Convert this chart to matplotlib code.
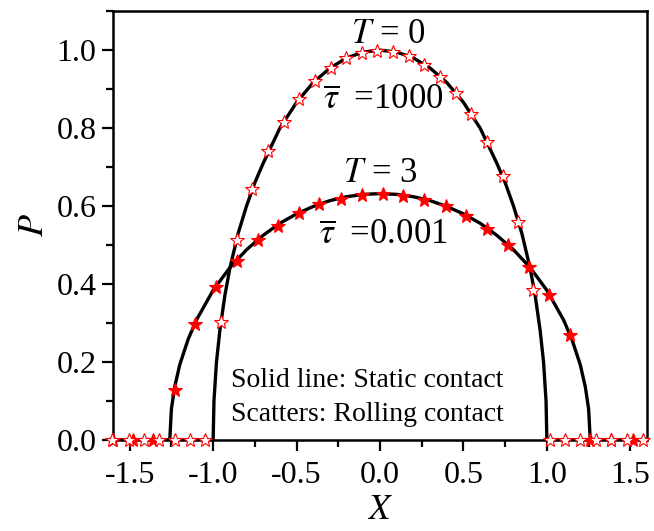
import numpy as np
import matplotlib
matplotlib.use("Agg")
import matplotlib.pyplot as plt
from matplotlib.ticker import MultipleLocator, FormatStrFormatter

plt.rcParams['font.family'] = ['Liberation Serif', 'DejaVu Serif']
plt.rcParams['mathtext.fontset'] = 'stix'
plt.rcParams['axes.unicode_minus'] = False

# static contact, T = 0 (solid line)
x_static0 = [-1.6, -1.0, -0.995, -0.98, -0.96, -0.93, -0.9, -0.85, -0.8, -0.75, -0.7,
             -0.6, -0.5, -0.4, -0.3, -0.2, -0.1, 0.0, 0.1, 0.2, 0.3, 0.4, 0.5, 0.6,
             0.7, 0.75, 0.8, 0.85, 0.9, 0.93, 0.96, 0.98, 0.995, 1.0, 1.6]
p_static0 = [0.0, 0.0, 0.10, 0.20, 0.28, 0.37, 0.44, 0.53, 0.60, 0.66, 0.71,
             0.80, 0.866, 0.917, 0.954, 0.98, 0.995, 1.0, 0.995, 0.98, 0.954, 0.917, 0.866, 0.80,
             0.71, 0.66, 0.60, 0.53, 0.44, 0.37, 0.28, 0.20, 0.10, 0.0, 0.0]

# static contact, T = 3 (solid line)
x_static3 = [-1.6, -1.26, -1.25, -1.23, -1.2, -1.15, -1.1, -1.0, -0.9, -0.8, -0.7, -0.6,
             -0.5, -0.4, -0.3, -0.2, -0.1, 0.0, 0.1, 0.2, 0.3, 0.4, 0.5, 0.6, 0.7, 0.8,
             0.9, 1.0, 1.1, 1.15, 1.2, 1.23, 1.25, 1.26, 1.6]
p_static3 = [0.0, 0.0, 0.08, 0.137, 0.193, 0.258, 0.308, 0.384, 0.442, 0.488, 0.525, 0.556,
             0.580, 0.599, 0.614, 0.624, 0.630, 0.632, 0.630, 0.624, 0.614, 0.599, 0.580, 0.556, 0.525, 0.488,
             0.442, 0.384, 0.308, 0.258, 0.193, 0.137, 0.08, 0.0, 0.0]

# rolling contact, tau = 1000 (open stars)
x_roll0 = [-1.607, -1.507, -1.417, -1.327, -1.228, -1.138, -1.048,
           -0.952, -0.858, -0.765, -0.669, -0.573, -0.483, -0.389, -0.295, -0.205, -0.110,
           -0.016, 0.076, 0.174, 0.265, 0.359, 0.453, 0.545, 0.639, 0.735, 0.828, 0.918,
           1.018, 1.108, 1.198, 1.293, 1.387, 1.481, 1.577]
p_roll0 = [0, 0, 0, 0, 0, 0, 0,
           0.303, 0.513, 0.644, 0.740, 0.816, 0.874, 0.921, 0.955, 0.979, 0.993,
           0.997, 0.996, 0.985, 0.963, 0.932, 0.891, 0.835, 0.765, 0.678, 0.558, 0.385,
           0, 0, 0, 0, 0, 0, 0]

# rolling contact, tau = 0.001 (filled stars)
x_roll3 = [-1.6, -1.481, -1.361, -1.228, -1.108, -0.984, -0.858, -0.732, -0.609, -0.485,
           -0.363, -0.235, -0.110, 0.016, 0.140, 0.265, 0.393, 0.515, 0.639, 0.765,
           0.892, 1.014, 1.138, 1.257, 1.387, 1.517]
p_roll3 = [0, 0, 0, 0.128, 0.298, 0.392, 0.460, 0.512, 0.550, 0.581,
           0.605, 0.618, 0.628, 0.631, 0.626, 0.616, 0.599, 0.574, 0.541, 0.499,
           0.445, 0.373, 0.269, 0, 0, 0]

fig = plt.figure(figsize=(6.54, 5.31), dpi=100)
ax = fig.add_axes([0.1728, 0.1714, 0.8165, 0.8076])

ax.plot(x_static0, p_static0, color='black', lw=2.4, zorder=2)
ax.plot(x_static3, p_static3, color='black', lw=2.4, zorder=2)
ax.plot(x_roll3, p_roll3, ls='none', marker='*', ms=10.5, mfc='red', mec='red', mew=0.8,
        zorder=3, clip_on=False)
ax.plot(x_roll0, p_roll0, ls='none', marker='*', ms=10.5, mfc='white', mec='red', mew=0.8,
        zorder=4, clip_on=False)

ax.set_xlim(-1.6, 1.6)
ax.set_ylim(0, 1.1)
ax.xaxis.set_major_locator(MultipleLocator(0.5))
ax.xaxis.set_minor_locator(MultipleLocator(0.25))
ax.yaxis.set_major_locator(MultipleLocator(0.2))
ax.yaxis.set_minor_locator(MultipleLocator(0.1))
ax.xaxis.set_major_formatter(FormatStrFormatter('%.1f'))
ax.yaxis.set_major_formatter(FormatStrFormatter('%.1f'))
ax.tick_params(which='both', direction='out', top=False, right=False, width=1.6, labelsize=23)
ax.tick_params(which='major', length=8)
ax.tick_params(axis='x', which='major', pad=7)
ax.tick_params(axis='y', which='major', pad=4)
ax.tick_params(which='minor', length=5)
for s in ax.spines.values():
    s.set_linewidth(1.8)

ax.set_xlabel(r'$X$', fontsize=25, labelpad=3)
ax.set_ylabel(r'$P$', fontsize=26, labelpad=4)

ax.text(0.05, 1.04, r'$T$ = 0', fontsize=25, ha='center', va='center')
ax.text(0.02, 0.87, r'$\overline{\tau}\ \ $=1000', fontsize=25, ha='center', va='center')
ax.text(0.0, 0.683, r'$T$ = 3', fontsize=25, ha='center', va='center')
ax.text(0.02, 0.525, r'$\overline{\tau}\ \ $=0.001', fontsize=25, ha='center', va='center')
ax.text(-0.89, 0.153, 'Solid line: Static contact', fontsize=20, ha='left', va='center')
ax.text(-0.89, 0.066, 'Scatters: Rolling contact', fontsize=20, ha='left', va='center')

fig.savefig('out.png', dpi=100)
